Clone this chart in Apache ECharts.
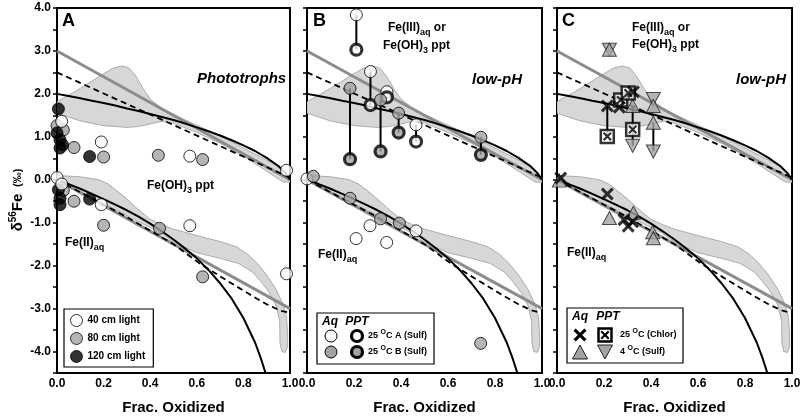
<!DOCTYPE html>
<html><head><meta charset="utf-8">
<script src="https://cdn.jsdelivr.net/npm/echarts/dist/echarts.min.js"></script>
<style>html,body{margin:0;padding:0;background:#fff}#c{width:800px;height:416px}</style>
</head><body><div id="c"></div>
<script>
// ---------------- data ----------------
const panelLetters = ['A', 'B', 'C'];
const xTickLabels = ['0.0', '0.2', '0.4', '0.6', '0.8', '1.0'];
const yTickLabels = ['-4.0', '-3.0', '-2.0', '-1.0', '0.0', '1.0', '2.0', '3.0', '4.0'];

// model curves (shared by the three panels)
const grayUpper = [[0, 3.0], [1.0, 0.0]];
const grayLower = [[0, 0.0], [1.0, -3.0]];
const dashedUpper = [[0, 2.5], [1.0, 0.05]];
const dashedLower = [[0, 0.0], [0.3, -0.87], [0.5, -1.5], [0.61, -1.94], [0.7, -2.25], [0.83, -2.68], [0.9, -2.9], [0.96, -3.05], [1.0, -3.1]];
const solidUpper = [[0, 2.0], [0.05, 1.95], [0.1, 1.9], [0.15, 1.84], [0.2, 1.79], [0.25, 1.73], [0.3, 1.66], [0.35, 1.6], [0.4, 1.53], [0.45, 1.46], [0.5, 1.39], [0.55, 1.31], [0.6, 1.22], [0.65, 1.13], [0.7, 1.03], [0.75, 0.92], [0.8, 0.8], [0.85, 0.67], [0.9, 0.51], [0.95, 0.32], [0.98, 0.16], [1.0, 0.0]];
const solidLower = [[0, 0.0], [0.05, -0.1], [0.1, -0.21], [0.15, -0.33], [0.2, -0.45], [0.25, -0.58], [0.3, -0.71], [0.35, -0.86], [0.4, -1.02], [0.45, -1.2], [0.5, -1.39], [0.55, -1.6], [0.6, -1.83], [0.65, -2.1], [0.7, -2.41], [0.75, -2.77], [0.8, -3.22], [0.85, -3.79], [0.875, -4.16], [0.895, -4.5]];
// shaded model envelopes (outline: upper edge left->right, lower edge right->left)
const upperBand = [[0, 1.82], [0.05, 1.97], [0.1, 2.13], [0.15, 2.3], [0.2, 2.47], [0.24, 2.6], [0.28, 2.65], [0.31, 2.6], [0.34, 2.4], [0.37, 2.12], [0.4, 1.88], [0.45, 1.66], [0.5, 1.52], [0.6, 1.27], [0.7, 1.02], [0.8, 0.74], [0.9, 0.46], [0.95, 0.3], [0.98, 0.14], [1.0, 0.02],
  [1.0, -0.06], [0.97, -0.05], [0.9, 0.2], [0.8, 0.55], [0.7, 0.85], [0.6, 1.1], [0.5, 1.32], [0.45, 1.36], [0.4, 1.3], [0.35, 1.24], [0.3, 1.22], [0.2, 1.26], [0.1, 1.37], [0.05, 1.46], [0, 1.55]];
const lowerBand = [[0, 0.1], [0.1, 0.07], [0.18, 0.0], [0.22, -0.1], [0.26, -0.27], [0.3, -0.45], [0.34, -0.65], [0.4, -0.92], [0.45, -1.05], [0.5, -1.15], [0.6, -1.3], [0.7, -1.44], [0.77, -1.56], [0.82, -1.74], [0.86, -1.95], [0.9, -2.22], [0.94, -2.55], [0.97, -2.9], [0.985, -3.2], [0.99, -3.6], [0.99, -3.88], [0.98, -4.02],
  [0.965, -4.0], [0.957, -3.8], [0.956, -3.3], [0.94, -2.92], [0.91, -2.62], [0.88, -2.4], [0.84, -2.15], [0.78, -1.95], [0.7, -1.83], [0.6, -1.7], [0.5, -1.45], [0.44, -1.22], [0.33, -0.92], [0.2, -0.55], [0.1, -0.3], [0, -0.02]];

// Panel A: phototrophs
const a80 = [[0.0, 1.26], [0.027, 1.16], [0.073, 0.75], [0.2, 0.53], [0.435, 0.57], [0.625, 0.47], [0.027, -0.25], [0.073, -0.5], [0.2, -1.06], [0.44, -1.13], [0.625, -2.26]];
const a120 = [[0.006, 1.65], [0.0, 1.09], [0.013, 0.93], [0.024, 0.81], [0.013, 0.74], [0.14, 0.54], [0.006, -0.23], [0.013, -0.43], [0.013, -0.58], [0.14, -0.45]];
const a40 = [[0.02, 1.36], [0.19, 0.88], [0.57, 0.55], [0.985, 0.22], [0.0, 0.05], [0.02, -0.1], [0.19, -0.58], [0.57, -1.07], [0.985, -2.19]];

// Panel B: low-pH, 25 C sulfate experiments
const bAqA = [[0.21, 3.84], [0.27, 2.52], [0.34, 2.05], [0.464, 1.28], [0.0, 0.02], [0.209, -1.37], [0.268, -1.07], [0.339, -1.46], [0.464, -1.19]];
const bPptA = [[0.21, 3.03], [0.27, 1.74], [0.34, 1.92], [0.464, 0.89]];
const bAqB = [[0.183, 2.13], [0.313, 1.86], [0.39, 1.55], [0.74, 0.99], [0.027, 0.08], [0.183, -0.43], [0.313, -0.91], [0.393, -1.01], [0.739, -3.81]];
const bPptB = [[0.183, 0.48], [0.313, 0.66], [0.39, 1.1], [0.74, 0.58]];

// Panel C: low-pH, 25 C chloride and 4 C sulfate
const cAq25 = [[0.214, 1.72], [0.265, 1.69], [0.325, 2.05], [0.016, 0.04], [0.214, -0.33], [0.285, -0.93], [0.303, -1.08], [0.322, -0.98]];
const cPpt25 = [[0.214, 1.01], [0.271, 1.86], [0.303, 2.02], [0.322, 1.17]];
const cAq4 = [[0.223, 3.03], [0.322, 1.72], [0.41, 1.72], [0.41, 1.33], [0.01, -0.02], [0.223, -0.89], [0.325, -0.77], [0.407, -1.22], [0.41, -1.36]];
const cPpt4 = [[0.223, 3.03], [0.322, 0.79], [0.41, 1.88], [0.41, 0.66]];

// ---------------- chart ----------------
const FONT = '"Liberation Sans", Arial, sans-serif';
const GRAY = '#a3a3a3';
const XPATH = 'path://M0,1.7L1.7,0L5,3.3L8.3,0L10,1.7L6.7,5L10,8.3L8.3,10L5,6.7L1.7,10L0,8.3L3.3,5Z';
const XPTS = [[0,1.7],[1.7,0],[5,3.3],[8.3,0],[10,1.7],[6.7,5],[10,8.3],[8.3,10],[5,6.7],[1.7,10],[0,8.3],[3.3,5]];

const gridPos = [{ left: 57, width: 233 }, { left: 307, width: 235 }, { left: 557, width: 235 }];
const grids = gridPos.map(g => ({ left: g.left, width: g.width, top: 8, height: 365, show: true, borderColor: '#000', borderWidth: 2, backgroundColor: 'transparent', outerBoundsMode: 'none' }));

const xAxes = gridPos.map((g, i) => ({
  type: 'value', gridIndex: i, min: 0, max: 1, interval: 0.2,
  axisLine: { onZero: false, lineStyle: { color: '#000', width: 2 } },
  axisTick: { show: false },
  splitLine: { show: false },
  axisLabel: { color: '#000', fontFamily: FONT, fontWeight: 'bold', fontSize: 12, margin: 5,
    formatter: v => xTickLabels[Math.round(v / 0.2)] },
  name: 'Frac. Oxidized', nameLocation: 'middle', nameGap: 27,
  nameTextStyle: { color: '#000', fontFamily: FONT, fontWeight: 'bold', fontSize: 15 }
}));
const yAxes = gridPos.map((g, i) => ({
  type: 'value', gridIndex: i, min: -4.5, max: 4, interval: 0.5,
  axisLine: { onZero: false, lineStyle: { color: '#000', width: 2 } },
  axisTick: { show: true, inside: false, length: 4, lineStyle: { color: '#000', width: 1.5 } },
  splitLine: { show: false },
  axisLabel: { show: i === 0, color: '#000', fontFamily: FONT, fontWeight: 'bold', fontSize: 12, margin: 6,
    formatter: v => { const r = Math.round(v); return Math.abs(v - r) < 1e-9 && r >= -4 ? yTickLabels[r + 4] : ''; } }
}));

function band(p, pts) {
  return { type: 'custom', xAxisIndex: p, yAxisIndex: p, z: 1, silent: true, clip: true, data: [[0, 0]],
    renderItem: (params, api) => ({ type: 'polygon', shape: { points: pts.map(q => api.coord(q)) },
      style: { fill: '#d7d7d7', stroke: '#9c9c9c', lineWidth: 0.8 } }) };
}
function line(p, pts, color, width, type, z) {
  return { type: 'line', xAxisIndex: p, yAxisIndex: p, data: pts, symbol: 'none', silent: true, z: z, clip: true,
    lineStyle: { color: color, width: width, type: type || 'solid' }, animation: false };
}
function stems(p, pairs) {
  return { type: 'custom', xAxisIndex: p, yAxisIndex: p, z: 4, silent: true, data: pairs, encode: { x: 0, y: [1, 2] },
    renderItem: (params, api) => {
      const a = api.coord([api.value(0), api.value(1)]);
      const b = api.coord([api.value(0), api.value(2)]);
      return { type: 'line', shape: { x1: a[0], y1: a[1], x2: b[0], y2: b[1] }, style: { stroke: '#000', lineWidth: 2 } };
    } };
}
function scatter(p, name, pts, sym, size, itemStyle, z, rot) {
  return { type: 'scatter', name: name, xAxisIndex: p, yAxisIndex: p, data: pts, symbol: sym, symbolSize: size,
    symbolRotate: rot || 0, itemStyle: itemStyle, z: z, clip: false, silent: true };
}
function pairStems(aq, ppt) { return ppt.map((d, i) => [d[0], aq[i][1], d[1]]); }

const series = [];
for (let p = 0; p < 3; p++) {
  series.push(band(p, upperBand), band(p, lowerBand));
  series.push(line(p, grayUpper, '#8c8c8c', 3, 'solid', 2), line(p, grayLower, '#8c8c8c', 3, 'solid', 2));
  series.push(line(p, dashedUpper, '#000', 1.8, [6, 4], 3), line(p, dashedLower, '#000', 1.8, [6, 4], 3));
  series.push(line(p, solidUpper, '#000', 2, 'solid', 3), line(p, solidLower, '#000', 2, 'solid', 3));
}
// Panel A
series.push(scatter(0, '80 cm light', a80, 'circle', 12, { color: GRAY, borderColor: '#000', borderWidth: 1 }, 5));
series.push(scatter(0, '120 cm light', a120, 'circle', 12, { color: '#000', borderColor: '#000', borderWidth: 1 }, 6));
series.push(scatter(0, '40 cm light', a40, 'circle', 12, { color: '#fff', borderColor: '#000', borderWidth: 1 }, 7));
// Panel B
series.push(stems(1, pairStems(bAqA, bPptA)), stems(1, pairStems(bAqB, bPptB)));
series.push(scatter(1, 'Aq 25C A', bAqA, 'circle', 12, { color: '#fff', borderColor: '#000', borderWidth: 1 }, 5));
series.push(scatter(1, 'PPT 25C A', bPptA, 'circle', 11, { color: '#fff', borderColor: '#000', borderWidth: 3.2 }, 6));
series.push(scatter(1, 'Aq 25C B', bAqB, 'circle', 12, { color: GRAY, borderColor: '#000', borderWidth: 1 }, 7));
series.push(scatter(1, 'PPT 25C B', bPptB, 'circle', 11, { color: GRAY, borderColor: '#000', borderWidth: 3.2 }, 8));
// Panel C
const cStems = [[cAq25[0], cPpt25[0]], [cAq4[1], cPpt4[1]], [cAq4[3], cPpt4[3]]].map(([a, b]) => [a[0], a[1], b[1]]);
series.push(stems(2, cStems));
series.push(scatter(2, 'PPT 4C', cPpt4, 'triangle', [14, 13], { color: GRAY, borderColor: '#222', borderWidth: 1 }, 5, 180));
series.push(scatter(2, 'Aq 4C', cAq4, 'triangle', [14, 13], { color: GRAY, borderColor: '#222', borderWidth: 1 }, 6));
series.push(scatter(2, 'PPT 25C box', cPpt25, 'rect', 13, { color: '#fff', borderColor: '#000', borderWidth: 2.5 }, 7));
series.push(scatter(2, 'PPT 25C x', cPpt25, XPATH, 9, { color: '#000' }, 8));
series.push(scatter(2, 'Aq 25C', cAq25, XPATH, 13, { color: '#000' }, 9));

// ---------------- text & legends (graphic) ----------------
const T = (x, y, text, font, rich, align) => ({ type: 'text', x: x, y: y, z: 100,
  style: { text: text, font: font, fill: '#000', align: align || 'left', verticalAlign: 'middle', rich: rich } });
const B12 = 'bold 12px ' + FONT;
const subRich = { a: { font: B12, lineHeight: 18, verticalAlign: 'middle' }, s: { font: 'bold 9px ' + FONT, lineHeight: 18, verticalAlign: 'bottom' } };
const supRich = { a: { font: 'bold 9px ' + FONT, lineHeight: 14 }, u: { font: 'bold 7px ' + FONT, lineHeight: 14, verticalAlign: 'top' } };
const g = [];
// y axis title
g.push({ type: 'text', x: 18, y: 200, rotation: Math.PI / 2, z: 100,
  style: { text: '{a|δ}{u|56}{a|Fe}  {p|(‰)}', align: 'center', verticalAlign: 'middle', fill: '#000',
    rich: { a: { font: 'bold 15px ' + FONT, lineHeight: 20 }, u: { font: 'bold 10px ' + FONT, lineHeight: 20, verticalAlign: 'top' }, p: { font: 'bold 11px ' + FONT, lineHeight: 20 } } } });
// panel letters
[62, 313, 562].forEach((x, i) => g.push(T(x, 21, panelLetters[i], 'bold 18px ' + FONT)));
// Panel A texts
g.push(T(197, 79, 'Phototrophs', 'italic bold 15px ' + FONT));
g.push(T(147, 186, '{a|Fe(OH)}{s|3}{a| ppt}', B12, subRich));
g.push(T(65, 243, '{a|Fe(II)}{s|aq}', B12, subRich));
// Panel B texts
g.push(T(388, 28, '{a|Fe(III)}{s|aq}{a| or}', B12, subRich));
g.push(T(383, 46, '{a|Fe(OH)}{s|3}{a| ppt}', B12, subRich));
g.push(T(472, 80, 'low-pH', 'italic bold 15px ' + FONT));
g.push(T(318, 255, '{a|Fe(II)}{s|aq}', B12, subRich));
// Panel C texts
g.push(T(632, 28, '{a|Fe(III)}{s|aq}{a| or}', B12, subRich));
g.push(T(632, 45, '{a|Fe(OH)}{s|3}{a| ppt}', B12, subRich));
g.push(T(736, 80, 'low-pH', 'italic bold 15px ' + FONT));
g.push(T(567, 253, '{a|Fe(II)}{s|aq}', B12, subRich));

// Legend B
g.push({ type: 'rect', shape: { x: 317, y: 313, width: 117, height: 51 }, style: { fill: '#fff', stroke: '#000', lineWidth: 1.2 }, z: 90 });
g.push(T(330, 322, 'Aq', 'italic bold 12px ' + FONT, null, 'center'));
g.push(T(357, 322, 'PPT', 'italic bold 12px ' + FONT, null, 'center'));
g.push({ type: 'circle', shape: { cx: 331, cy: 336, r: 6 }, style: { fill: '#fff', stroke: '#000', lineWidth: 1 }, z: 100 });
g.push({ type: 'circle', shape: { cx: 357, cy: 336, r: 5.5 }, style: { fill: '#fff', stroke: '#000', lineWidth: 3.2 }, z: 100 });
g.push({ type: 'circle', shape: { cx: 331, cy: 352, r: 6 }, style: { fill: GRAY, stroke: '#000', lineWidth: 1 }, z: 100 });
g.push({ type: 'circle', shape: { cx: 357, cy: 352, r: 5.5 }, style: { fill: GRAY, stroke: '#000', lineWidth: 3.2 }, z: 100 });
g.push(T(368, 336, '{a|25 }{u|O}{a|C A (Sulf)}', 'bold 9px ' + FONT, supRich));
g.push(T(368, 352, '{a|25 }{u|O}{a|C B (Sulf)}', 'bold 9px ' + FONT, supRich));

// Legend C
const xPoly = (cx, cy, s) => XPTS.map(([a, b]) => [cx + (a - 5) * s, cy + (b - 5) * s]);
const tri = (cx, cy, w, h, down) => down ? [[cx - w / 2, cy - h / 2], [cx + w / 2, cy - h / 2], [cx, cy + h / 2]] : [[cx, cy - h / 2], [cx + w / 2, cy + h / 2], [cx - w / 2, cy + h / 2]];
g.push({ type: 'rect', shape: { x: 567, y: 308, width: 116, height: 55 }, style: { fill: '#fff', stroke: '#000', lineWidth: 1.2 }, z: 90 });
g.push(T(580, 317, 'Aq', 'italic bold 12px ' + FONT, null, 'center'));
g.push(T(608, 317, 'PPT', 'italic bold 12px ' + FONT, null, 'center'));
g.push({ type: 'polygon', shape: { points: xPoly(580, 335, 1.3) }, style: { fill: '#000' }, z: 100 });
g.push({ type: 'rect', shape: { x: 598.5, y: 328.5, width: 13, height: 13 }, style: { fill: '#fff', stroke: '#000', lineWidth: 2.5 }, z: 100 });
g.push({ type: 'polygon', shape: { points: xPoly(605, 335, 0.9) }, style: { fill: '#000' }, z: 101 });
g.push({ type: 'polygon', shape: { points: tri(580, 352, 15, 14, false) }, style: { fill: GRAY, stroke: '#222', lineWidth: 1 }, z: 100 });
g.push({ type: 'polygon', shape: { points: tri(605, 352, 15, 14, true) }, style: { fill: GRAY, stroke: '#222', lineWidth: 1 }, z: 100 });
g.push(T(620, 335, '{a|25 }{u|O}{a|C (Chlor)}', 'bold 9px ' + FONT, supRich));
g.push(T(620, 352, '{a|4 }{u|O}{a|C (Sulf)}', 'bold 9px ' + FONT, supRich));

const chart = echarts.init(document.getElementById('c'), null, { renderer: 'canvas' });
chart.setOption({
  animation: false,
  backgroundColor: '#fff',
  grid: grids, xAxis: xAxes, yAxis: yAxes,
  legend: [{
    data: ['40 cm light', '80 cm light', '120 cm light'], orient: 'vertical', left: 64, top: 309,
    itemWidth: 12, itemHeight: 12, itemGap: 5, icon: 'circle', selectedMode: false,
    itemStyle: { borderWidth: 1, borderColor: '#000' },
    padding: [5, 8, 4, 6], borderColor: '#000', borderWidth: 1.2, backgroundColor: '#fff',
    textStyle: { color: '#000', fontFamily: FONT, fontWeight: 'bold', fontSize: 10 }, z: 100
  }],
  series: series,
  graphic: { elements: g }
});
</script></body></html>
